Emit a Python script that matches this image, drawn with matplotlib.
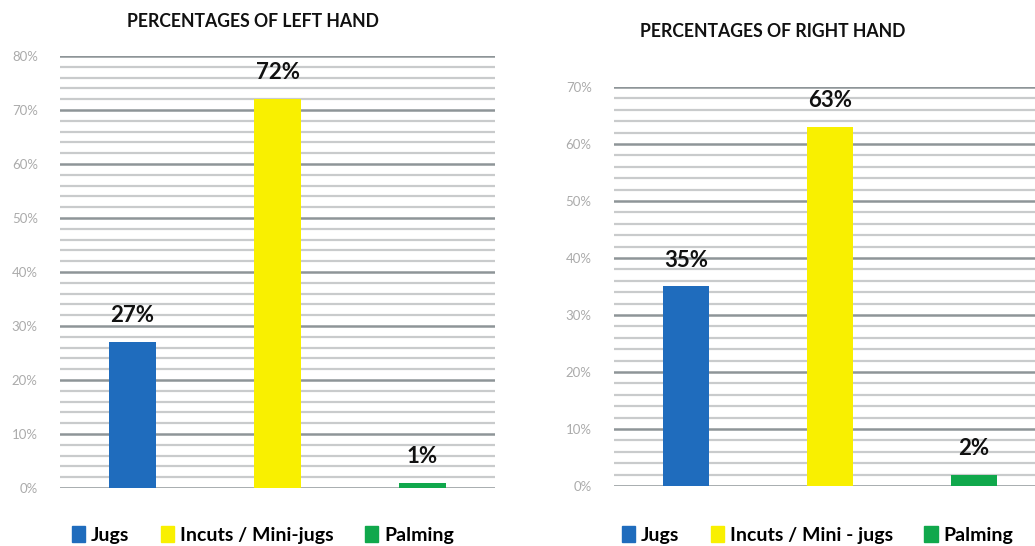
import matplotlib
matplotlib.use("Agg")
import matplotlib.pyplot as plt
from matplotlib.patches import Patch
from matplotlib.ticker import MultipleLocator, FuncFormatter

plt.rcParams['font.family'] = ['Lato', 'DejaVu Sans']

categories = ["Jugs", "Incuts / Mini-jugs", "Palming"]
right_categories = ["Jugs", "Incuts / Mini - jugs", "Palming"]
left_values = [27, 72, 1]
right_values = [35, 63, 2]
colors = ["#1f6cbd", "#f9f000", "#10a84c"]

MAJOR_GRID = "#8e9598"
MINOR_GRID = "#c9cbcc"
TICK_COLOR = "#ababab"


def draw_panel(ax, values, labels, ymax, title, title_xy, legend_x):
    x = range(len(values))
    ax.bar(x, values, width=0.32, color=colors, zorder=3)
    ax.set_xlim(-0.5, len(values) - 0.5)
    ax.set_ylim(0, ymax)
    ax.yaxis.set_major_locator(MultipleLocator(10))
    ax.yaxis.set_minor_locator(MultipleLocator(2))
    ax.yaxis.set_major_formatter(FuncFormatter(lambda v, p: "{:d}%".format(int(v))))
    ax.grid(axis="y", which="major", color=MAJOR_GRID, linewidth=1.8, zorder=0)
    ax.grid(axis="y", which="minor", color=MINOR_GRID, linewidth=1.6, zorder=0)
    ax.set_axisbelow(True)
    for s in ax.spines.values():
        s.set_visible(False)
    ax.tick_params(axis="y", which="both", length=0, pad=16, labelsize=9.5,
                   labelcolor=TICK_COLOR)
    ax.tick_params(axis="x", length=0, labelbottom=False)

    for xi, v in zip(x, values):
        ax.annotate("{}%".format(v), (xi, v), xytext=(0, 19), textcoords="offset points",
                    ha="center", va="center", fontsize=16, fontweight="bold",
                    color="#111111")

    fig.text(title_xy[0], title_xy[1], title, ha="center", va="center",
             fontsize=12.7, fontweight="bold", color="#111111")

    handles = [Patch(facecolor=c, edgecolor=c) for c in colors]
    fig.legend(handles, labels, loc="center", bbox_to_anchor=(legend_x, 0.02),
               ncol=3, frameon=False, handlelength=0.7,
               handleheight=0.9, handletextpad=0.3, columnspacing=1.6,
               prop={"size": 14, "weight": "bold"})


fig = plt.figure(figsize=(10.35, 5.46), dpi=100)
ax1 = fig.add_axes([0.058, 0.1062, 0.4203, 0.7912])
ax2 = fig.add_axes([0.5932, 0.1099, 0.4174, 0.7308])

draw_panel(ax1, left_values, categories, 80, "PERCENTAGES OF LEFT HAND", (0.2444, 0.96), 0.254)
draw_panel(ax2, right_values, right_categories, 70, "PERCENTAGES OF RIGHT HAND", (0.747, 0.943), 0.79)

fig.savefig("out.png", dpi=100)
